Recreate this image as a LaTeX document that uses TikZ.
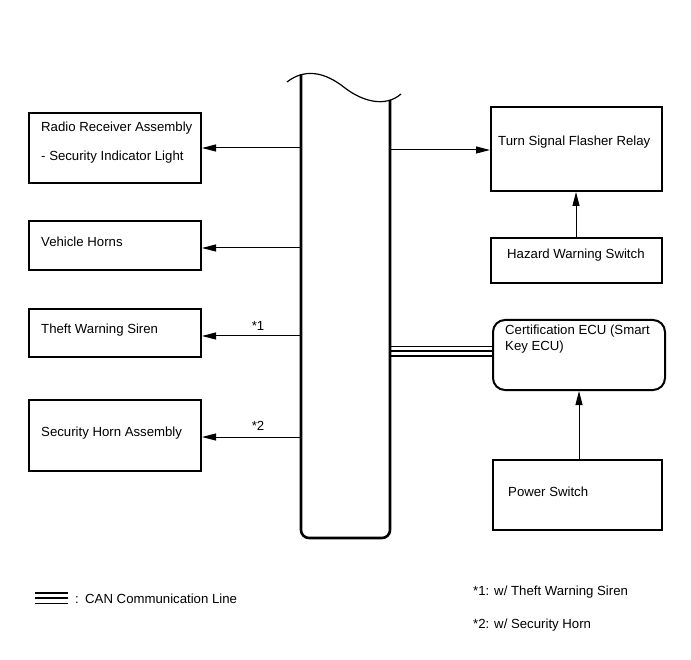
\documentclass[tikz,border=0pt]{standalone}
\usepackage{fontspec}
\setmainfont{Liberation Sans}
\usetikzlibrary{arrows.meta}
\begin{document}
\begin{tikzpicture}[x=1pt,y=-1pt,
  font=\fontsize{13.2}{15.5}\selectfont,
  box/.style={draw, line width=2pt, inner sep=0pt},
  txt/.style={inner sep=0pt, anchor=west},
  conn/.style={line width=1pt, -{Triangle[length=14pt,width=7pt]}},
  canline/.style={line width=1.4pt}]
\useasboundingbox (0,0) rectangle (691,660);

% central bar
\node[inner sep=0pt, minimum width=89pt, minimum height=438pt] (bar) at (345.5,319) {};
\draw[line width=1.2pt] (287,82) .. controls (305,68) and (325,72) .. (345,88)
  .. controls (362,101) and (385,108) .. (401,94);
\draw[line width=2.6pt, rounded corners=8pt] (301,74.5) -- (301,538) -- (390,538) -- (390,100);

% left boxes
\node[box, minimum width=172pt, minimum height=70pt] (radio) at (115,148) {};
\node[txt] (radioA) at (41,128) {Radio Receiver Assembly};
\node[txt] (radioB) at (41,157) {- Security Indicator Light};

\node[box, minimum width=172pt, minimum height=49pt] (horns) at (115,246) {};
\node[txt] (hornsT) at (41,242) {Vehicle Horns};

\node[box, minimum width=172pt, minimum height=48pt] (siren) at (115,333) {};
\node[txt] (sirenT) at (41,330) {Theft Warning Siren};

\node[box, minimum width=172pt, minimum height=71pt] (shorn) at (115,435.5) {};
\node[txt] (shornT) at (41,433) {Security Horn Assembly};

% right boxes
\node[box, minimum width=171pt, minimum height=84pt] (relay) at (576.5,149) {};
\node[txt] (relayT) at (498,142) {Turn Signal Flasher Relay};

\node[box, minimum width=171pt, minimum height=45pt] (hazard) at (576.5,261) {};
\node[txt] (hazardT) at (507,255) {Hazard Warning Switch};

\node[draw, line width=2pt, rounded corners=12pt, inner sep=0pt, minimum width=172pt, minimum height=70pt] (ecu) at (579,355) {};
\node[inner sep=0pt, anchor=north west, align=left] (ecuT) at (505,325) {Certification ECU (Smart\\Key ECU)};

\node[box, minimum width=169pt, minimum height=70pt] (power) at (577.5,494.5) {};
\node[txt] (powerT) at (508,492) {Power Switch};

% connectors from bar
\draw[conn] (bar.west |- radio.east) -- (radio.east);
\draw[conn] (bar.west |- 0,248) -- (horns.east |- 0,248);
\draw[conn] (bar.west |- 0,336) -- (siren.east |- 0,336);
\draw[conn] (bar.west |- 0,437) -- (shorn.east |- 0,437);
\node[inner sep=0pt] (n1) at (258,326) {*1};
\node[inner sep=0pt] (n2) at (258,426) {*2};
\draw[conn] (bar.east |- 0,150) -- (relay.west |- 0,150);
\draw[conn] (hazard.north -| 576,0) -- (relay.south -| 576,0);
\draw[conn] (power.north -| 579,0) -- (ecu.south -| 579,0);

% CAN line
\draw[canline] (bar.east |- 0,346.5) -- (ecu.west |- 0,346.5);
\draw[canline] (bar.east |- 0,351) -- (ecu.west |- 0,351);
\draw[canline] (bar.east |- 0,356) -- (ecu.west |- 0,356);

% legend
\coordinate (lgA) at (35,593);
\coordinate (lgB) at (68,593);
\draw[line width=1.8pt] (lgA) -- (lgB);
\draw[line width=1.4pt] ([yshift=-5pt]lgA) -- ([yshift=-5pt]lgB);
\draw[line width=1.4pt] ([yshift=-10.5pt]lgA) -- ([yshift=-10.5pt]lgB);
\node[txt] (colon) at (75,600) {:};
\node[txt] (canT) at (85,599) {CAN Communication Line};
\node[txt] (fn1) at (473,592) {*1: w/ Theft Warning Siren};
\node[txt] (fn2) at (473,625) {*2: w/ Security Horn};
\end{tikzpicture}
\end{document}
